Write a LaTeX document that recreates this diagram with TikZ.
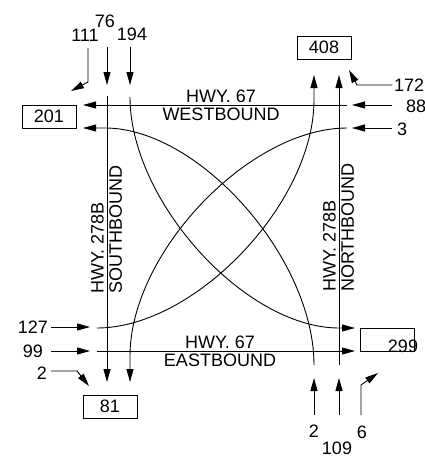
\documentclass[tikz,border=0pt]{standalone}
\usepackage{fontspec}
\setmainfont{Liberation Sans}
\usetikzlibrary{arrows.meta}

\tikzset{
  flow/.style={line width=0.9pt, -{Triangle[length=13pt,width=7pt]}},
  exitbox/.style={draw, line width=0.9pt, minimum width=54pt, minimum height=23pt, inner sep=0pt, font=\fontsize{18}{20}\selectfont},
  lbl/.style={font=\fontsize{18}{20}\selectfont, inner sep=1pt},
}

\begin{document}
\begin{tikzpicture}[x=1pt,y=-1pt]
    \useasboundingbox (0,0) rectangle (425,458);

    % Exits
    \node[exitbox] (x201) at (49,116.5) {201};
    \node[exitbox] (x408) at (324,47.5) {408};
    \node[exitbox] (x81) at (110,406.5) {81};
    \node[exitbox] (x299) at (387.5,340) {};
    \node[lbl] (t299) at (403,346.5) {299};

    % Road ends
    \coordinate (wbIn) at (347,105);  \coordinate (wbOut) at (83,105);
    \coordinate (sbIn) at (107,96);   \coordinate (sbOut) at (107,382);
    \coordinate (nbIn) at (339,365);  \coordinate (nbOut) at (339,75);
    \coordinate (ebIn) at (97,351);   \coordinate (ebOut) at (355,351);

    % Roads
    \draw[flow] (wbIn) -- (wbOut);
    \draw[flow] (sbIn) -- (sbOut);
    \draw[flow] (nbIn) -- (nbOut);
    \draw[flow] (ebIn) -- (ebOut);

    % Turns
    \coordinate (aIn) at (130,97);   \coordinate (aEnd) at (339,328);  \coordinate (aOut) at (355,328);
    \coordinate (bIn) at (347,128);  \coordinate (bEnd) at (130,356);  \coordinate (bOut) at (130,382);
    \coordinate (cIn) at (97,328);   \coordinate (cEnd) at (314,100);  \coordinate (cOut) at (314,75);
    \coordinate (dIn) at (314,365);  \coordinate (dEnd) at (105,128);  \coordinate (dOut) at (83,128);
    \draw[flow] (aIn) .. controls (130,201) and (245,328) .. (aEnd) -- (aOut);
    \draw[flow] (bIn) .. controls (249,128) and (130,253) .. (bEnd) -- (bOut);
    \draw[flow] (cIn) .. controls (195,328) and (314,203) .. (cEnd) -- (cOut);
    \draw[flow] (dIn) .. controls (314,258) and (199,128) .. (dEnd) -- (dOut);

    % Road names
    \node[lbl, anchor=south] (wb1) at (221,104) {HWY. 67};
    \node[lbl, anchor=north] (wb2) at (221,107) {WESTBOUND};
    \node[lbl, anchor=south] (eb1) at (220,350) {HWY. 67};
    \node[lbl, anchor=north] (eb2) at (220,353) {EASTBOUND};
    \node[lbl, rotate=90, anchor=south west] (sb1) at (105,295) {HWY. 278B};
    \node[lbl, rotate=90, anchor=north west] (sb2) at (108,295) {SOUTHBOUND};
    \node[lbl, rotate=90, anchor=south west] (nb1) at (337,293) {HWY. 278B};
    \node[lbl, rotate=90, anchor=north west] (nb2) at (340,293) {NORTHBOUND};

    % Ramps in
    \coordinate (r76a) at (107,47);   \coordinate (r76b) at (107,85);
    \coordinate (r194a) at (130,47);  \coordinate (r194b) at (130,85);
    \coordinate (r111a) at (88,48);   \coordinate (r111k) at (88,82);   \coordinate (r111b) at (71,91);
    \coordinate (r172a) at (392,85);  \coordinate (r172k) at (357,85);  \coordinate (r172b) at (349,70);
    \coordinate (r88a) at (392,105);  \coordinate (r88b) at (352,105);
    \coordinate (r3a) at (392,128);   \coordinate (r3b) at (352,128);
    \coordinate (r127a) at (51,327);  \coordinate (r127b) at (90,327);
    \coordinate (r99a) at (51,351);   \coordinate (r99b) at (90,351);
    \coordinate (rl2a) at (51,371);   \coordinate (rl2k) at (77,371);   \coordinate (rl2b) at (89,386);
    \coordinate (rb2a) at (314,415);  \coordinate (rb2b) at (314,378);
    \coordinate (r109a) at (339,415); \coordinate (r109b) at (339,378);
    \coordinate (r6a) at (361,415);   \coordinate (r6k) at (361,385);   \coordinate (r6b) at (378,373);
    \draw[flow] (r76a) -- (r76b);
    \draw[flow] (r194a) -- (r194b);
    \draw[flow] (r111a) -- (r111k) -- (r111b);
    \draw[flow] (r172a) -- (r172k) -- (r172b);
    \draw[flow] (r88a) -- (r88b);
    \draw[flow] (r3a) -- (r3b);
    \draw[flow] (r127a) -- (r127b);
    \draw[flow] (r99a) -- (r99b);
    \draw[flow] (rl2a) -- (rl2k) -- (rl2b);
    \draw[flow] (rb2a) -- (rb2b);
    \draw[flow] (r109a) -- (r109b);
    \draw[flow] (r6a) -- (r6k) -- (r6b);

    % Numbers
    \node[lbl] (n76) at (105,21) {76};
    \node[lbl] (n194) at (132,34) {194};
    \node[lbl] (n111) at (85,35) {111};
    \node[lbl, anchor=west] (n172) at (393,85) {172};
    \node[lbl, anchor=west] (n88) at (405,106) {88};
    \node[lbl, anchor=west] (n3) at (396,129) {3};
    \node[lbl, anchor=east] (n127) at (49,327) {127};
    \node[lbl, anchor=east] (n99) at (44,351) {99};
    \node[lbl, anchor=east] (nl2) at (48,373) {2};
    \node[lbl] (nb2n) at (314,431) {2};
    \node[lbl] (n109) at (337,448) {109};
    \node[lbl] (n6) at (362,432) {6};
\end{tikzpicture}
\end{document}
